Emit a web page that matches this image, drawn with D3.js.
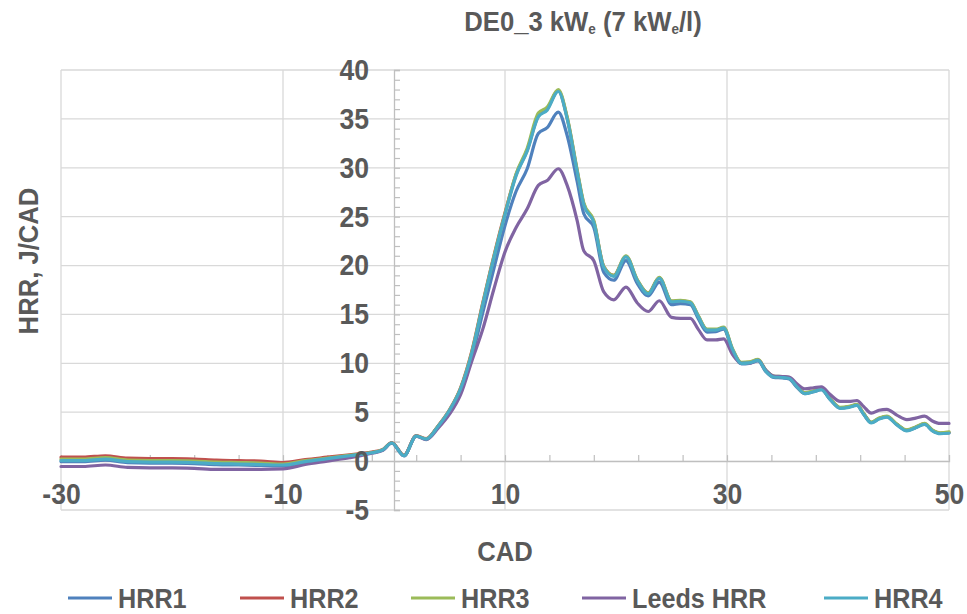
<!DOCTYPE html>
<html>
<head>
<meta charset="utf-8">
<script src="https://cdn.jsdelivr.net/npm/d3@7"></script>
<style>
  html, body { margin: 0; padding: 0; background: #ffffff; }
  svg text { font-family: "Liberation Sans", Arial, sans-serif; font-weight: bold; fill: #595959; }
</style>
</head>
<body>
<svg id="chart" width="967" height="614"></svg>
<script>
// Crank angle (CAD) sample positions shared by every series
const cad = [-30,-28,-26,-24,-22,-20,-18,-16,-14,-12,-10,-8,-6,-4,-3,-2,-1,-0.2,0.9,2,2.9,4,5,6,7,8,9,10,
  11,12,13,13.8,14.8,15.6,16.5,17.1,18,18.9,19.8,20.9,21.9,22.9,23.9,25,25.8,26.7,27.4,28.2,
  29,29.7,30.5,31.3,32,32.8,33.5,34.2,35,35.6,36.3,37,37.8,38.5,39.3,40.2,41,41.7,42.3,43,
  43.7,44.4,45.3,46.2,47,47.8,48.5,49.2,50];

// Heat release rate, J/CAD
const hrr1 = [-0.05,-0.05,0.1,-0.15,-0.2,-0.2,-0.25,-0.35,-0.4,-0.45,-0.5,-0.1,0.2,0.5,0.68,0.85,1.15,1.85,0.55,2.55,2.25,3.6,5.1,7.2,10.6,15.2,19.7,24.1,
  27.6,29.9,33.5,34.1,35.7,33.3,28.6,25.3,23.9,19.3,18.5,20.5,18.2,16.9,18.3,16.0,16.1,16.0,14.6,13.2,
  13.25,13.5,11.3,9.95,10.0,10.25,9.15,8.55,8.5,8.4,7.55,6.9,7.1,7.3,6.3,5.45,5.55,5.75,4.85,3.95,
  4.35,4.55,3.75,3.15,3.45,3.8,3.15,2.85,2.9];

const hrr2 = [0.4,0.4,0.55,0.3,0.25,0.25,0.2,0.1,0.05,0.0,-0.15,0.15,0.4,0.65,0.78,0.92,1.2,1.9,0.6,2.6,2.3,3.65,5.25,7.5,11.2,16.2,21.0,25.4,
  29.3,31.8,35.3,36.0,37.9,35.1,29.7,26.3,24.5,19.9,19.0,20.95,18.55,17.2,18.75,16.35,16.4,16.25,14.85,13.45,
  13.45,13.65,11.4,10.05,10.1,10.35,9.25,8.65,8.6,8.5,7.65,6.95,7.15,7.35,6.35,5.45,5.55,5.75,4.85,3.95,
  4.35,4.55,3.75,3.15,3.45,3.8,3.15,2.85,2.9];

const hrr3 = [0.2,0.2,0.35,0.1,0.05,0.05,0.0,-0.1,-0.15,-0.2,-0.3,0.05,0.3,0.6,0.72,0.88,1.18,1.88,0.58,2.58,2.28,3.62,5.22,7.45,11.1,16.1,20.9,25.3,
  29.4,32.0,35.6,36.2,38.0,35.2,29.8,26.4,24.6,19.9,19.0,21.0,18.6,17.2,18.8,16.4,16.45,16.3,14.9,13.5,
  13.5,13.7,11.5,10.1,10.15,10.4,9.3,8.7,8.65,8.55,7.7,7.0,7.2,7.4,6.4,5.5,5.6,5.8,4.9,4.0,
  4.4,4.6,3.8,3.2,3.5,3.85,3.2,2.9,3.0];

const leeds = [-0.55,-0.55,-0.4,-0.65,-0.7,-0.7,-0.75,-0.85,-0.85,-0.85,-0.8,-0.35,0.0,0.35,0.55,0.8,1.1,1.85,0.55,2.55,2.2,3.4,4.8,6.8,10.2,13.5,17.6,21.4,
  23.9,25.8,28.2,28.7,29.9,28.2,24.6,21.5,20.5,17.3,16.5,17.8,16.2,15.3,16.4,14.7,14.6,14.6,13.5,12.4,
  12.4,12.5,10.9,10.0,10.0,10.3,9.3,8.7,8.65,8.6,7.9,7.4,7.5,7.6,6.8,6.1,6.1,6.2,5.6,4.9,
  5.2,5.3,4.7,4.25,4.4,4.6,4.1,3.85,3.85];

const hrr4 = [0.05,0.05,0.2,-0.05,-0.1,-0.1,-0.15,-0.25,-0.3,-0.35,-0.4,-0.05,0.25,0.55,0.7,0.85,1.15,1.85,0.55,2.55,2.25,3.6,5.2,7.4,11.0,16.0,20.8,25.2,
  29.2,31.7,35.2,35.9,37.8,35.0,29.6,26.2,24.4,19.8,18.9,20.9,18.5,17.1,18.7,16.3,16.35,16.2,14.8,13.4,
  13.4,13.6,11.4,10.0,10.05,10.3,9.2,8.6,8.55,8.45,7.6,6.9,7.1,7.3,6.3,5.4,5.5,5.7,4.8,3.9,
  4.3,4.5,3.7,3.1,3.4,3.75,3.1,2.8,2.85];

const seriesNames = ["HRR1", "HRR2", "HRR3", "Leeds HRR", "HRR4"];
const seriesValues = [hrr1, hrr2, hrr3, leeds, hrr4];
const seriesColors = ["#4f81bd", "#c0504d", "#9bbb59", "#8064a2", "#4bacc6"];

const xTicks = [-30, -10, 10, 30, 50];
const yTicks = [-5, 0, 5, 10, 15, 20, 25, 30, 35, 40];

// Text is drawn slightly condensed
const squeeze = 0.9;

const svg = d3.select("#chart");

const x = d3.scaleLinear().domain([-30, 50]).range([61, 949]);
const y = d3.scaleLinear().domain([-5, 40]).range([510, 70]);

// Gridlines
const grid = svg.append("g").attr("stroke", "#d9d9d9").attr("stroke-width", 1.3);
grid.selectAll("line.h").data(yTicks).join("line")
  .attr("x1", x(-30)).attr("x2", x(50))
  .attr("y1", d => y(d)).attr("y2", d => y(d));
grid.selectAll("line.v").data(xTicks).join("line")
  .attr("x1", d => x(d)).attr("x2", d => x(d))
  .attr("y1", y(40)).attr("y2", y(-5));

// Axis lines through the origin, with minor tick marks
const axisColor = "#bfbfbf";
const yMinor = d3.axisRight(y).tickValues(d3.range(-5, 41, 1)).tickSize(6).tickFormat("");
const yMinorG = svg.append("g").attr("transform", `translate(${x(0)},0)`).call(yMinor);
yMinorG.select(".domain").attr("stroke", axisColor).attr("stroke-width", 1.3);
yMinorG.selectAll(".tick line").attr("stroke", axisColor).attr("stroke-width", 1.2);

const xMinor = d3.axisTop(x).tickValues(d3.range(-26, 50, 4)).tickSize(6).tickFormat("");
const xMinorG = svg.append("g").attr("transform", `translate(0,${y(0)})`).call(xMinor);
xMinorG.select(".domain").attr("stroke", axisColor).attr("stroke-width", 1.3);
xMinorG.selectAll(".tick line").attr("stroke", axisColor).attr("stroke-width", 1.2);

// Series lines
const line = d3.line()
  .x((d, i) => x(cad[i]))
  .y(d => y(d))
  .curve(d3.curveMonotoneX);

svg.append("g").selectAll("path").data(seriesValues).join("path")
  .attr("d", line)
  .attr("fill", "none")
  .attr("stroke", (d, i) => seriesColors[i])
  .attr("stroke-width", 3.2)
  .attr("stroke-linejoin", "round")
  .attr("stroke-linecap", "round");

// Tick labels (plain hyphen for negatives)
const plain = d => String(d);
const yAxis = d3.axisLeft(y).tickValues(yTicks).tickSize(0).tickFormat(plain);
const yAxisG = svg.append("g").attr("transform", `translate(${x(0)},0)`).call(yAxis);
yAxisG.select(".domain").remove();
yAxisG.selectAll("text")
  .attr("x", null)
  .attr("transform", `translate(-25,0) scale(${squeeze},1)`)
  .attr("font-size", 29.5).style("font-family", null);

const xAxis = d3.axisBottom(x).tickValues(xTicks).tickSize(0).tickPadding(22).tickFormat(plain);
const xAxisG = svg.append("g").attr("transform", `translate(0,${y(0)})`).call(xAxis);
xAxisG.select(".domain").remove();
xAxisG.selectAll("text")
  .attr("transform", `scale(${squeeze},1)`)
  .attr("font-size", 29.5).style("font-family", null);

// Title
const title = svg.append("text")
  .attr("transform", `translate(583,31) scale(${squeeze},1)`)
  .attr("text-anchor", "middle")
  .attr("font-size", 28.5);
title.append("tspan").text("DE0_3 kW");
title.append("tspan").attr("font-size", 15).attr("dy", 3).text("e");
title.append("tspan").attr("dy", -3).text(" (7 kW");
title.append("tspan").attr("font-size", 15).attr("dy", 3).text("e");
title.append("tspan").attr("dy", -3).text("/l)");

// Axis titles
svg.append("text")
  .attr("transform", `translate(38,261) rotate(-90) scale(${squeeze},1)`)
  .attr("text-anchor", "middle")
  .attr("font-size", 28.5)
  .text("HRR, J/CAD");

svg.append("text")
  .attr("transform", `translate(505,561) scale(${squeeze},1)`)
  .attr("text-anchor", "middle")
  .attr("font-size", 28.5)
  .text("CAD");

// Legend
const legendX = [68, 240, 411, 582, 824];
const legend = svg.append("g").selectAll("g").data(seriesNames).join("g")
  .attr("transform", (d, i) => `translate(${legendX[i]},598)`);
legend.append("line")
  .attr("x1", 0).attr("x2", 44).attr("y1", 0).attr("y2", 0)
  .attr("stroke", (d, i) => seriesColors[i])
  .attr("stroke-width", 3.2);
legend.append("text")
  .attr("transform", `translate(50,0) scale(${squeeze},1)`)
  .attr("dy", "0.36em")
  .attr("font-size", 28)
  .text(d => d);
</script>
</body>
</html>
